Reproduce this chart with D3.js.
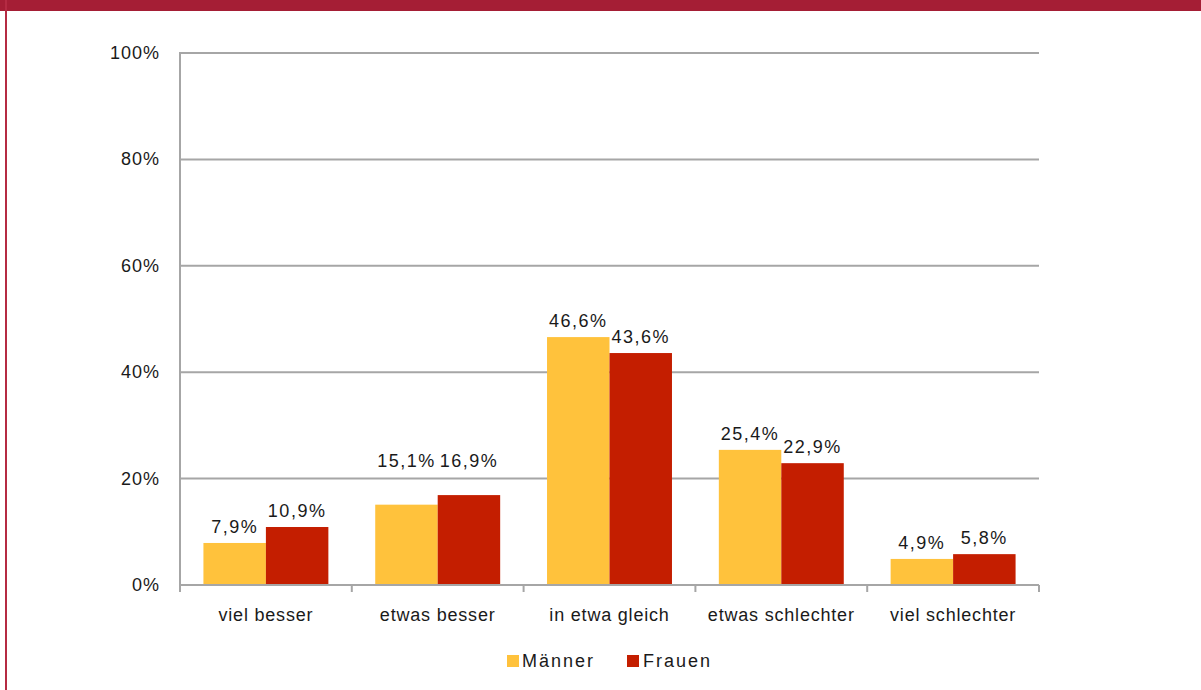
<!DOCTYPE html>
<html><head><meta charset="utf-8">
<script src="https://cdn.jsdelivr.net/npm/d3@7"></script>
<style>
html,body{margin:0;padding:0;background:#fff;}
svg{display:block;font-family:"Liberation Sans",Arial,sans-serif;}
</style></head>
<body>
<svg id="c" width="1201" height="690"></svg>
<script>
const categories = ["viel besser","etwas besser","in etwa gleich","etwas schlechter","viel schlechter"];
const seriesNames = ["Männer","Frauen"];
const maenner = [7.9, 15.1, 46.6, 25.4, 4.9];
const frauen = [10.9, 16.9, 43.6, 22.9, 5.8];
const yTicks = [0,20,40,60,80,100];
const colors = ["#FFC23C","#C41E00"];

(function(){
const svg = d3.select("#c");
svg.append("rect").attr("x",0).attr("y",0).attr("width",1201).attr("height",11).attr("fill","#A51E35");
svg.append("rect").attr("x",5).attr("y",0).attr("width",2).attr("height",690).attr("fill","#B52B43");

const pl=180, pr=1039, pt=53, pb=585;
const x = d3.scaleBand().domain(categories).range([pl,pr]).paddingInner(0).paddingOuter(0);
const y = d3.scaleLinear().domain([0,100]).range([pb,pt]);
const inner = d3.scaleBand().domain(seriesNames).range([0,x.bandwidth()]).paddingInner(0).paddingOuter(0.375);

const grid = "#A6A6A6";
const ls = "1px";
svg.append("g").selectAll("line").data(yTicks.filter(t=>t>0)).join("line")
  .attr("x1",pl).attr("x2",pr).attr("y1",d=>y(d)).attr("y2",d=>y(d))
  .attr("stroke",grid).attr("stroke-width",2);
svg.append("line").attr("x1",pl).attr("x2",pl).attr("y1",pt-1).attr("y2",pb).attr("stroke",grid).attr("stroke-width",2);
svg.append("g").selectAll("text").data(yTicks).join("text")
  .attr("x",160).attr("y",d=>y(d)+6).attr("text-anchor","end").attr("letter-spacing",ls)
  .attr("font-size",18).attr("fill","#1a1a1a").text(d=>d+"%");

// label placement: labels of a category move above a gridline they would cross
function baseY(v){ return y(v) - 10; }
function crosses(b){ return yTicks.find(t=>t>0 && y(t) > b-18 && y(t) < b+2); }
function groupLabelY(vals){
  let lift = null;
  vals.forEach(v=>{ const t = crosses(baseY(v)); if (t!==undefined) lift = y(t) - 12; });
  return vals.map(v => lift!==null ? Math.min(lift, baseY(v)) : baseY(v));
}

const data = categories.map((c,i)=>({c, vals:[maenner[i],frauen[i]]}));
const groups = svg.append("g").selectAll("g").data(data).join("g")
  .attr("transform",d=>`translate(${x(d.c)},0)`);
groups.selectAll("rect").data(d=>d.vals.map((v,j)=>({v,s:seriesNames[j],j}))).join("rect")
  .attr("x",d=>inner(d.s)).attr("width",inner.bandwidth())
  .attr("y",d=>y(d.v)).attr("height",d=>pb-y(d.v))
  .attr("fill",d=>colors[d.j]);
groups.selectAll("text").data(d=>{const ly=groupLabelY(d.vals); return d.vals.map((v,j)=>({v,s:seriesNames[j],j,ly:ly[j]}));}).join("text")
  .attr("x",d=>inner(d.s)+inner.bandwidth()/2).attr("y",d=>d.ly)
  .attr("text-anchor","middle").attr("font-size",18).attr("fill","#1a1a1a").attr("letter-spacing","1.5px")
  .text(d=>d.v.toFixed(1).replace(".",",")+"%");

svg.append("line").attr("x1",pl).attr("x2",pr).attr("y1",pb).attr("y2",pb).attr("stroke",grid).attr("stroke-width",2);
const ticksX = categories.map(c=>x(c)).concat([pr]);
svg.append("g").selectAll("line").data(ticksX).join("line")
  .attr("x1",d=>d).attr("x2",d=>d).attr("y1",pb).attr("y2",pb+7)
  .attr("stroke",grid).attr("stroke-width",2);
svg.append("g").selectAll("text").data(categories).join("text")
  .attr("x",d=>x(d)+x.bandwidth()/2).attr("y",621).attr("text-anchor","middle").attr("letter-spacing","0.8px")
  .attr("font-size",18).attr("fill","#1a1a1a").text(d=>d);

const legendX = [507, 627];
const lg = svg.append("g").selectAll("g").data(seriesNames).join("g")
  .attr("transform",(d,i)=>`translate(${legendX[i]},655)`);
lg.append("rect").attr("width",12).attr("height",12).attr("fill",(d,i)=>colors[i]);
lg.append("text").attr("x",(d,i)=>i?16:15).attr("y",12).attr("font-size",18).attr("letter-spacing","2px").attr("fill","#1a1a1a").text(d=>d);
})();
</script>
</body></html>
